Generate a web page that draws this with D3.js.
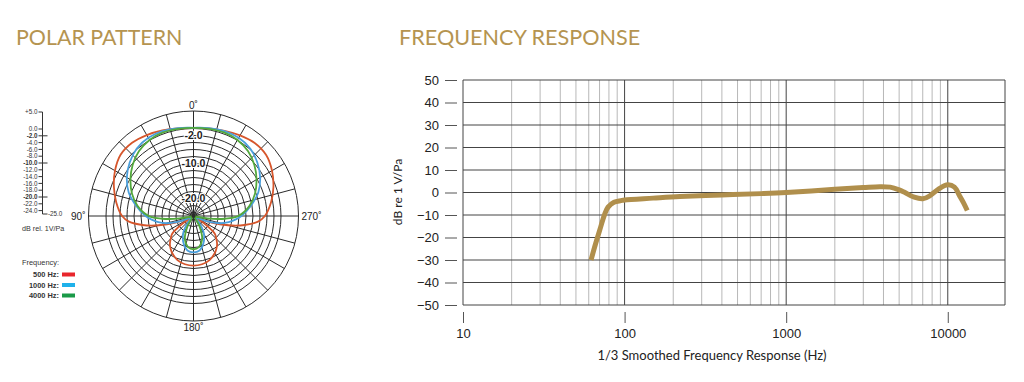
<!DOCTYPE html>
<html><head><meta charset="utf-8">
<script src="https://cdn.jsdelivr.net/npm/d3@7"></script>
<style>
html,body{margin:0;padding:0;background:#fff;}
svg{display:block;}
</style></head>
<body>
<svg id="chart" width="1024" height="382"></svg>
<script>
// ---------- DATA ----------
const titles = ["POLAR PATTERN", "FREQUENCY RESPONSE"];

// Polar pattern: angle in degrees (0 = front/top, 90 = left, 270 = right) and level in dB
const polarAngles = [0,10,20,30,40,50,60,70,80,90,95,100,105,110,115,120,125,130,135,140,145,150,160,170,180,
                     190,200,210,215,220,225,230,235,240,245,250,255,260,265,270,280,290,300,310,320,330,340,350];
const polar500  = [0.1,0.4,1.0,1.7,2.3,2.2,0.9,-0.8,-2.6,-4.6,-6.5,-10.2,-14.8,-19.5,-23.5,-25,-21,-17,-15.8,-14.5,-13.6,-12.8,-11.6,-11,-10.8,
                   -11,-11.6,-12.8,-13.6,-14.5,-15.8,-17,-21,-25,-23.5,-19.5,-14.8,-10.2,-6.5,-4.6,-2.5,-0.7,0.9,2.1,2.2,1.6,0.9,0.4];
const polar1000 = [0.2,0.5,0.8,0.8,0.2,-1.2,-3.0,-5.3,-8.4,-11.3,-13,-14.8,-17,-19.8,-23,-25,-25,-25,-25,-23,-20.6,-19,-16.7,-15,-14.6,
                   -15,-16.7,-19,-20.6,-23,-25,-25,-25,-25,-23,-19.8,-17,-14.8,-13,-11.3,-8.4,-5.3,-3.0,-1.2,0.2,0.8,0.8,0.5];
const polar4000 = [0.2,0.3,0.4,0.1,-0.8,-2.3,-4.2,-6.3,-8.8,-12.2,-16,-21,-25,-25,-25,-25,-25,-25,-25,-25,-24,-21.5,-17.8,-16,-15.5,
                   -16,-17.8,-21.5,-24,-25,-25,-25,-25,-25,-25,-25,-25,-21,-16,-12.2,-8.8,-6.3,-4.2,-2.3,-0.8,0.1,0.4,0.3];
const polarSeries = ["500 Hz:", "1000 Hz:", "4000 Hz:"];
const polarRings = [-24,-22,-20,-18,-16,-14,-12,-10,-8,-6,-4,-2,0,5];
const polarRingLabels = ["-2.0", "-10.0", "-20.0"];
const polarRingLabelValues = [-2, -10, -20];
const scaleTicks = [5,0,-2,-4,-6,-8,-10,-12,-14,-16,-18,-20,-22,-24];
const scaleTickLabels = ["+5.0","0.0","-2.0","-4.0","-6.0","-8.0","-10.0","-12.0","-14.0","-16.0","-18.0","-20.0","-22.0","-24.0"];
const angleLabels = ["0˚","90˚","180˚","270˚"];
const angleLabelAngles = [0, 90, 180, 270];

// Frequency response
const freqHz = [62,66,71,75,79,86,95,100,150,220,400,700,1000,2000,3000,3800,4400,5000,5400,6200,7000,7800,8800,10000,11000,11800,12500,13200];
const freqDb = [-30,-23,-15.5,-10,-6.5,-4.3,-3.6,-3.3,-2.5,-1.8,-1.1,-0.5,0,1.4,2.2,2.6,2.4,1.2,0.1,-2.1,-2.8,-1.3,1.6,3.4,2.4,-1.3,-4.5,-8];
const yTicks = [50,40,30,20,10,0,-10,-20,-30,-40,-50];
const xTicks = [10,100,1000,10000];
const xTickLabels = ["10","100","1000","10000"];
const minorFreqs = [20,30,40,50,60,70,80,90,200,300,400,500,600,700,800,900,2000,3000,4000,5000,6000,7000,8000,9000];

// ---------- STYLES ----------
const gold = "#b59450";
const seriesColors = ["#d6562c", "#4a9fdc", "#52a83c"];
const swatchColors = ["#e8262c", "#1fb1ea", "#1a9a48"];
const textFont = "Liberation Sans, Arial, sans-serif";

const svg = d3.select("#chart");
svg.append("rect").attr("width",1024).attr("height",382).attr("fill","#fff");

svg.append("text").attr("x",16).attr("y",45).text(titles[0])
  .attr("font-family","Lato").attr("font-weight",400).attr("font-size",21.4).attr("fill",gold);
svg.append("text").attr("x",399).attr("y",45).text(titles[1])
  .attr("font-family","Lato").attr("font-weight",400).attr("font-size",21.6).attr("fill",gold);

// ---------- POLAR ----------
const cx = 193.5, cy = 216;
const r = d3.scaleLinear().domain([-25, 5]).range([0, 105]).clamp(true);
const gP = svg.append("g").attr("transform",`translate(${cx},${cy})`);

gP.selectAll("circle.ring").data(polarRings).join("circle")
  .attr("r", d => r(d)).attr("fill","none").attr("stroke","#2a2a2a").attr("stroke-width",1);
const spokeAngles = d3.range(0, 360, 15);
gP.selectAll("line.spoke").data(spokeAngles).join("line")
  .attr("x1",0).attr("y1",0)
  .attr("x2", d => -r(5)*Math.sin(d*Math.PI/180))
  .attr("y2", d => -r(5)*Math.cos(d*Math.PI/180))
  .attr("stroke","#2a2a2a").attr("stroke-width",1);

gP.selectAll("text.rl").data(polarRingLabelValues).join("text")
  .attr("x",0).attr("y", d => -r(d)).attr("dy","0.35em")
  .attr("text-anchor","middle").attr("font-family",textFont).attr("font-weight","bold")
  .attr("font-size",10.5).attr("fill","#222")
  .attr("stroke","#fff").attr("stroke-width",2).attr("paint-order","stroke")
  .text((d,i) => polarRingLabels[i]);

const polarData = [polar500, polar1000, polar4000];
const radial = d3.lineRadial()
  .angle(d => -d.a*Math.PI/180)
  .radius(d => r(d.v))
  .curve(d3.curveCatmullRomClosed.alpha(0.5));
polarData.forEach((vals, si) => {
  const pts = polarAngles.map((a,i) => ({a, v: vals[i]}));
  gP.append("path").attr("d", radial(pts)).attr("fill","none")
    .attr("stroke", seriesColors[si]).attr("stroke-width",1.8).attr("stroke-linejoin","round");
});
gP.append("circle").attr("r",2).attr("fill","#2a2a2a");

const angPos = [[0,-111],[-108,0],[0,111],[108,0]];
gP.selectAll("text.al").data(angleLabelAngles).join("text")
  .attr("x",(d,i)=>angPos[i][0]).attr("y",(d,i)=>angPos[i][1]).attr("dy","0.35em")
  .attr("text-anchor",(d,i)=> i===1 ? "end" : (i===3 ? "start" : "middle"))
  .attr("font-family",textFont).attr("font-size",10).attr("fill","#222")
  .text((d,i)=>angleLabels[i]);

// dB scale on left
const sy = d3.scaleLinear().domain([5,-25]).range([112,214]);
const sx = 42.5;
const gS = svg.append("g");
gS.append("path").attr("d",`M${sx},${sy(5)}V${sy(-25)}H${sx+5}`).attr("fill","none").attr("stroke","#333").attr("stroke-width",1);
gS.selectAll("line").data(scaleTicks).join("line")
  .attr("x1", sx-4).attr("x2", d => polarRingLabelValues.includes(d) ? sx+5 : sx)
  .attr("y1", d=>sy(d)).attr("y2", d=>sy(d)).attr("stroke","#333").attr("stroke-width",1);
gS.selectAll("text").data(scaleTicks).join("text")
  .attr("x", sx-5).attr("y", d=>sy(d)).attr("dy","0.35em").attr("text-anchor","end")
  .attr("font-family",textFont).attr("font-size",6.3)
  .attr("font-weight", d => polarRingLabelValues.includes(d) ? "bold" : "normal")
  .attr("fill","#333").text((d,i)=>scaleTickLabels[i]);
svg.append("text").attr("x",48).attr("y",sy(-25)).attr("dy","0.35em")
  .attr("font-family",textFont).attr("font-size",6.3).attr("fill","#333").text("-25.0");
svg.append("text").attr("x",22).attr("y",231)
  .attr("font-family",textFont).attr("font-size",7.2).attr("fill","#333").text("dB rel. 1V/Pa");

// legend
svg.append("text").attr("x",22).attr("y",265)
  .attr("font-family",textFont).attr("font-size",7.4).attr("fill","#333").text("Frequency:");
polarSeries.forEach((s,i) => {
  svg.append("text").attr("x",59).attr("y",277+i*10.5)
    .attr("text-anchor","end").attr("font-family",textFont).attr("font-weight","bold")
    .attr("font-size",7.4).attr("fill","#333").text(s);
  svg.append("rect").attr("x",62).attr("y",272.5+i*10.5).attr("width",13).attr("height",4).attr("fill",swatchColors[i]);
});

// ---------- FREQUENCY RESPONSE ----------
const x = d3.scaleLog().domain([10, 22600]).range([463, 1005]);
const y = d3.scaleLinear().domain([-50, 50]).range([305, 80]);
const gF = svg.append("g");

gF.selectAll("line.minor").data(minorFreqs).join("line")
  .attr("x1", d=>x(d)).attr("x2", d=>x(d)).attr("y1", y(50)).attr("y2", y(-50))
  .attr("stroke","#b8b8b8").attr("stroke-width",1);
gF.selectAll("line.h").data(yTicks).join("line")
  .attr("x1", x(10)).attr("x2", 1005).attr("y1", d=>y(d)).attr("y2", d=>y(d))
  .attr("stroke","#444").attr("stroke-width",1);
gF.selectAll("line.major").data(xTicks).join("line")
  .attr("x1", d=>x(d)).attr("x2", d=>x(d)).attr("y1", y(50)).attr("y2", y(-50))
  .attr("stroke","#444").attr("stroke-width",1);
gF.append("line").attr("x1",1005).attr("x2",1005).attr("y1",y(50)).attr("y2",y(-50)).attr("stroke","#444");

const yAxis = d3.axisLeft(y).tickValues(yTicks).tickSize(12).tickPadding(6).tickFormat(d3.format("d"));
const gy = gF.append("g").attr("transform","translate(457,0)").call(yAxis);
gy.select(".domain").remove();
gy.selectAll("line").attr("stroke","#555");
gy.selectAll("text").attr("font-family",textFont).attr("font-size",13).attr("fill","#222");

const xAxis = d3.axisBottom(x).tickValues(xTicks).tickSize(11).tickPadding(6).tickFormat((d,i)=>xTickLabels[i]);
const gx = gF.append("g").attr("transform","translate(0,312)").call(xAxis);
gx.select(".domain").remove();
gx.selectAll("line").attr("stroke","#555");
gx.selectAll("text").attr("font-family",textFont).attr("font-size",13).attr("fill","#222");

svg.append("text").attr("transform","translate(402,192) rotate(-90)").attr("text-anchor","middle")
  .attr("font-family","Lato").attr("font-size",12).attr("fill","#222").text("dB re 1 V/Pa");
svg.append("text").attr("x",712).attr("y",360).attr("text-anchor","middle")
  .attr("font-family","Lato").attr("font-size",13).attr("fill","#222").text("1/3 Smoothed Frequency Response (Hz)");

const line = d3.line().x(d=>x(d.f)).y(d=>y(d.v)).curve(d3.curveCatmullRom.alpha(0.5));
gF.append("path").attr("d", line(freqHz.map((f,i)=>({f, v: freqDb[i]}))))
  .attr("fill","none").attr("stroke","#b08f4c").attr("stroke-width",5).attr("stroke-linecap","butt").attr("stroke-linejoin","round");
</script>
</body></html>
